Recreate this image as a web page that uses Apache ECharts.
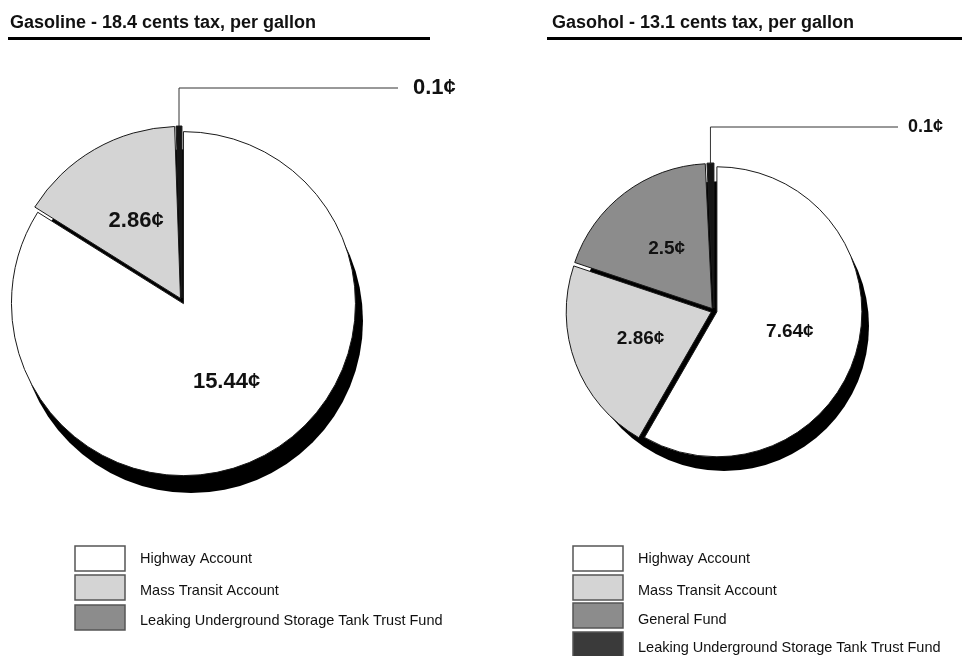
<!DOCTYPE html>
<html>
<head>
<meta charset="utf-8">
<script src="https://cdn.jsdelivr.net/npm/echarts@6/dist/echarts.min.js"></script>
<style>
  html, body { margin: 0; padding: 0; background: #fff; }
  #chart { width: 962px; height: 656px; }
</style>
</head>
<body>
<div id="chart"></div>
<script>
// Federal motor fuel tax distribution, cents per gallon
const gasolineTitle = 'Gasoline - 18.4 cents tax, per gallon';
const gasolineCategories = ['Highway Account', 'Mass Transit Account', 'Leaking Underground Storage Tank Trust Fund'];
const gasolineValues = [15.44, 2.86, 0.1];

const gasoholTitle = 'Gasohol - 13.1 cents tax, per gallon';
const gasoholCategories = ['Highway Account', 'Mass Transit Account', 'General Fund', 'Leaking Underground Storage Tank Trust Fund'];
const gasoholValues = [7.64, 2.86, 2.5, 0.1];

// slice fills and legend swatch fills
const gasolineSliceColors = ['#ffffff', '#d4d4d4', '#151515'];
const gasolineLegendColors = ['#ffffff', '#d4d4d4', '#8c8c8c'];
const gasoholSliceColors = ['#ffffff', '#d4d4d4', '#8c8c8c', '#151515'];
const gasoholLegendColors = ['#ffffff', '#d4d4d4', '#8c8c8c', '#3a3a3a'];

const FONT = '"Liberation Sans", Arial, Helvetica, sans-serif';

const chart = echarts.init(document.getElementById('chart'), null, { renderer: 'canvas' });

// Builds one exploded pie: a black drop-shadow disc plus one series per slice,
// each slice nudged outward along its bisector.
function buildPie(cfg) {
  const values = cfg.values;
  const total = values.reduce((a, b) => a + b, 0);
  const series = [];

  series.push({
    type: 'pie',
    silent: true,
    z: 1,
    center: [cfg.cx + cfg.shadow[0], cfg.cy + cfg.shadow[1]],
    radius: [0, cfg.r],
    startAngle: 90,
    label: { show: false },
    labelLine: { show: false },
    itemStyle: { color: '#000', borderWidth: 0 },
    data: [{ value: total, name: 'shadow' }]
  });

  let cum = 0;
  values.forEach((v, i) => {
    const mid = (cum + v / 2) / total * Math.PI * 2;
    cum += v;
    const ox = cfg.explode * Math.sin(mid);
    const oy = -cfg.explode * Math.cos(mid);
    const isSmall = i === cfg.calloutIndex;
    series.push({
      type: 'pie',
      silent: true,
      z: 2,
      center: [cfg.cx + ox, cfg.cy + oy],
      radius: [0, cfg.r],
      startAngle: 90,
      avoidLabelOverlap: false,
      emphasis: { disabled: true },
      labelLayout: isSmall ? function (params) {
        const p = params.labelLinePoints ? params.labelLinePoints[0] : [cfg.cx, cfg.cy - cfg.r];
        return {
          x: cfg.callout.textX,
          y: cfg.callout.y,
          align: 'left',
          verticalAlign: 'middle',
          labelLinePoints: [[p[0], p[1]], [p[0], cfg.callout.y], [cfg.callout.lineEnd, cfg.callout.y]]
        };
      } : null,
      data: values.map((val, j) => {
        const own = j === i;
        return {
          value: val,
          name: cfg.categories[j],
          itemStyle: own
            ? { color: cfg.colors[j], borderColor: '#1a1a1a', borderWidth: 1 }
            : { color: 'rgba(0,0,0,0)', borderWidth: 0 },
          label: own
            ? {
                show: true,
                position: isSmall ? 'outside' : 'inside',
                formatter: val + '\u00a2',
                color: '#111',
                fontFamily: FONT,
                fontWeight: 'bold',
                fontSize: isSmall ? cfg.callout.fontSize : cfg.labelSize
              }
            : { show: false },
          labelLine: own && isSmall
            ? { show: true, smooth: false, lineStyle: { color: '#333', width: 1 } }
            : { show: false }
        };
      })
    });
  });
  return series;
}

// Title with a heavy rule beneath it
function titleGraphic(text, x, y, ruleX1, ruleX2, ruleY) {
  return [
    { type: 'text', left: x, top: y, style: { text: text, fill: '#111', font: 'bold 18px ' + FONT } },
    { type: 'rect', shape: { x: ruleX1, y: ruleY, width: ruleX2 - ruleX1, height: 3 }, style: { fill: '#000' } }
  ];
}

// Legend: swatch boxes with labels to their right
function legendGraphic(names, colors, boxX, textX, boxTops, textYs) {
  const out = [];
  names.forEach((n, i) => {
    out.push({
      type: 'rect',
      shape: { x: boxX, y: boxTops[i], width: 50, height: 25 },
      style: { fill: colors[i], stroke: '#555', lineWidth: 1.5 }
    });
    out.push({
      type: 'text',
      x: textX, y: textYs[i],
      style: { text: n, fill: '#111', font: '14.5px ' + FONT, textVerticalAlign: 'middle' }
    });
  });
  return out;
}

const leftPie = buildPie({
  values: gasolineValues, categories: gasolineCategories, colors: gasolineSliceColors,
  cx: 182, cy: 301, r: 172, shadow: [9, 20], explode: 3, labelSize: 22,
  calloutIndex: 2, callout: { y: 88, lineEnd: 398, textX: 413, fontSize: 22 }
});
const rightPie = buildPie({
  values: gasoholValues, categories: gasoholCategories, colors: gasoholSliceColors,
  cx: 714, cy: 311, r: 145, shadow: [10, 15], explode: 3, labelSize: 19,
  calloutIndex: 3, callout: { y: 127, lineEnd: 898, textX: 908, fontSize: 18 }
});

const graphics = []
  .concat(titleGraphic(gasolineTitle, 10, 14, 8, 430, 37))
  .concat(titleGraphic(gasoholTitle, 552, 14, 547, 962, 37))
  .concat(legendGraphic(gasolineCategories, gasolineLegendColors, 75, 140,
    [546, 575, 605], [559, 591, 621]))
  .concat(legendGraphic(gasoholCategories, gasoholLegendColors, 573, 638,
    [546, 575, 603, 632], [559, 591, 620, 648]));

chart.setOption({
  backgroundColor: '#ffffff',
  animation: false,
  graphic: graphics,
  series: leftPie.concat(rightPie)
});
</script>
</body>
</html>
